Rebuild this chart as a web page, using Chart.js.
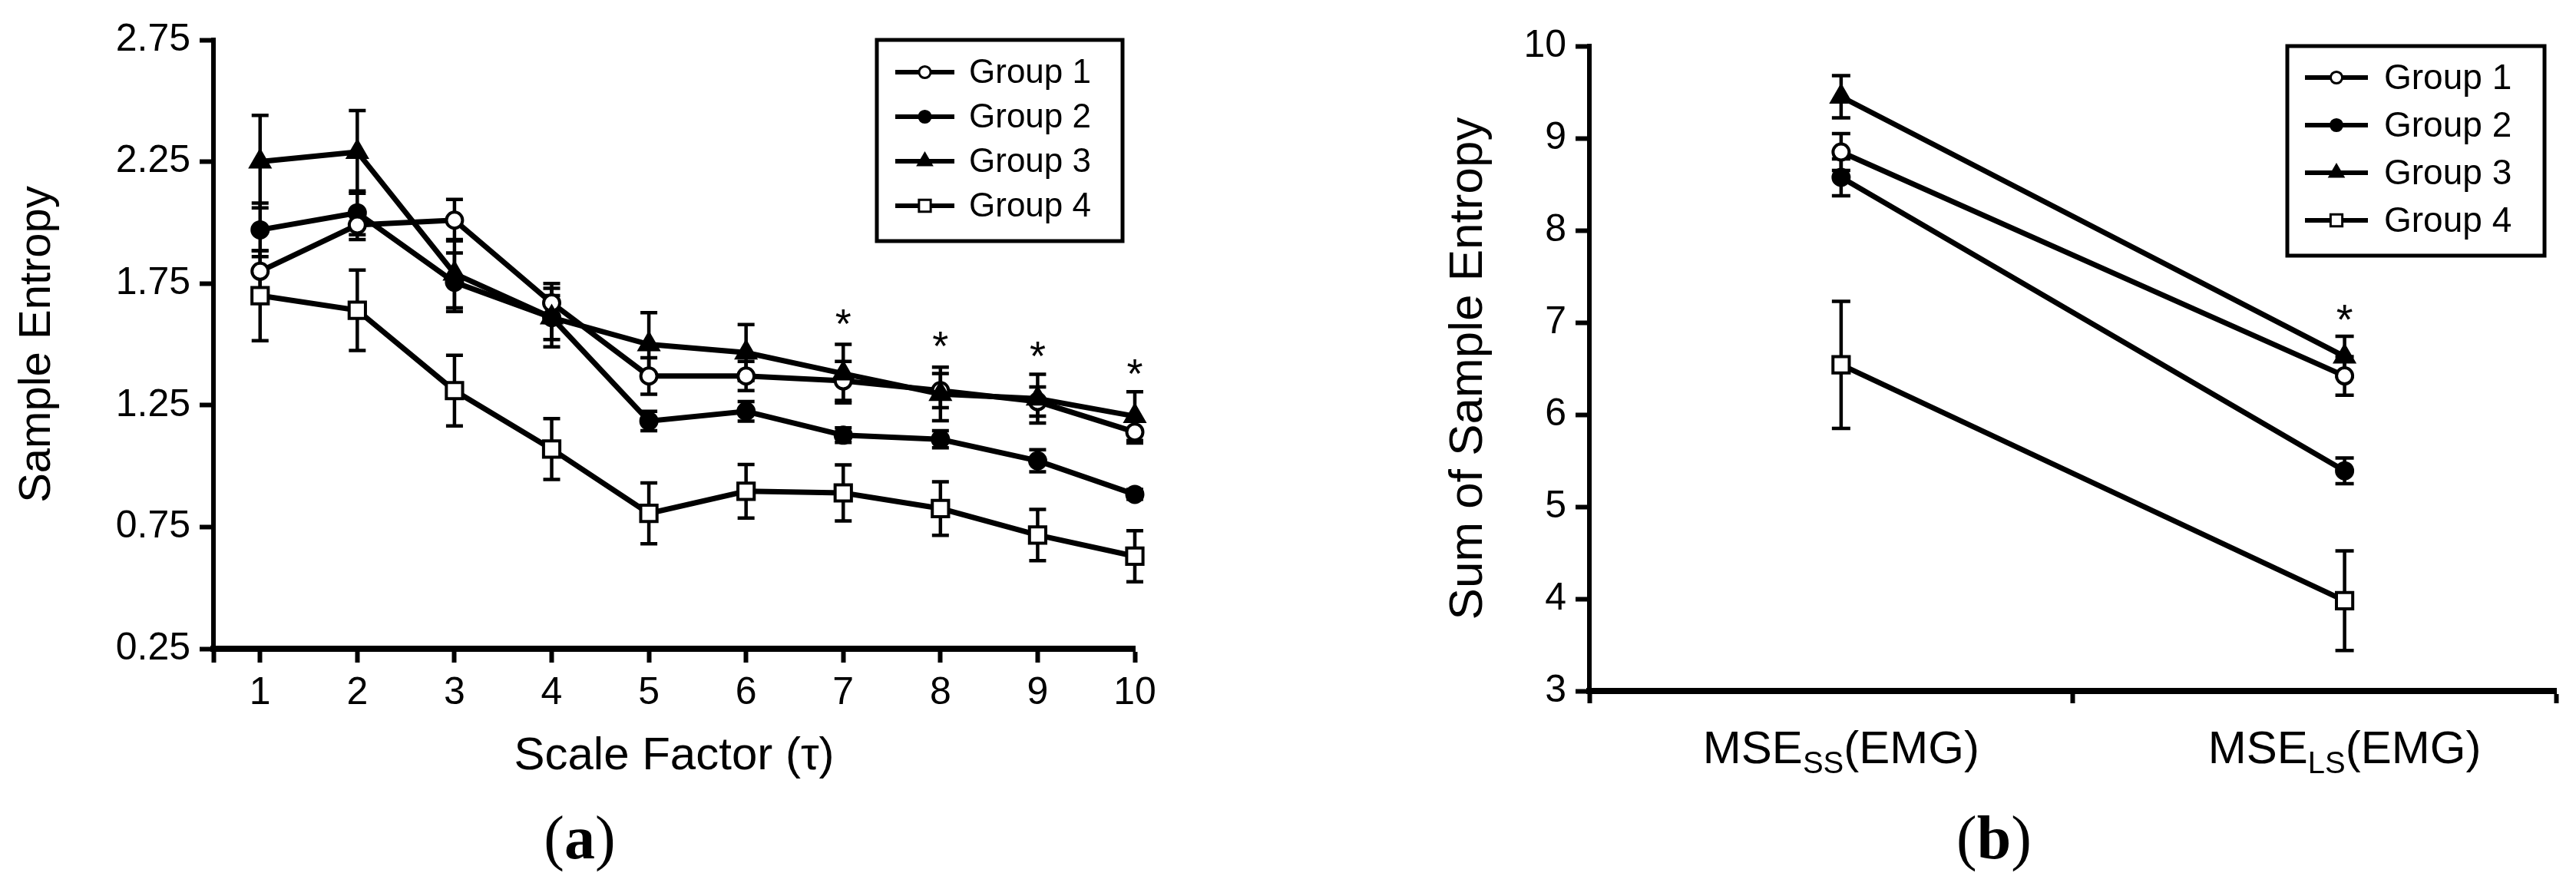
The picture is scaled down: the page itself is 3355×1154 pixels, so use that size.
<!DOCTYPE html>
<html>
<head>
<meta charset="utf-8">
<script src="https://cdn.jsdelivr.net/npm/chart.js@4.4.1/dist/chart.umd.min.js"></script>
<style>
  html, body { margin: 0; padding: 0; background: #fff; }
  body { width: 3355px; height: 1154px; position: relative; overflow: hidden; }
  .panel { position: absolute; top: 0; height: 1154px; }
  #boxA { left: 0; width: 1600px; }
  #boxB { left: 1700px; width: 1655px; }
  .tag { position: absolute; top: 1051px; width: 200px; text-align: center;
         font: 80px/80px "Liberation Serif", "Times New Roman", serif; color: #000; }
</style>
</head>
<body>
<div class="panel" id="boxA"><canvas id="chartA"></canvas></div>
<div class="panel" id="boxB"><canvas id="chartB"></canvas></div>
<div class="tag" style="left:655px">(<b>a</b>)</div>
<div class="tag" style="left:2497px">(<b>b</b>)</div>

<script>
// ---------- panel (a): sample entropy per scale factor ----------
const scaleFactors = [1, 2, 3, 4, 5, 6, 7, 8, 9, 10];
const yTicksA = [0.25, 0.75, 1.25, 1.75, 2.25, 2.75];

const group1 = [1.80, 1.99, 2.01, 1.67, 1.37, 1.37, 1.35, 1.31, 1.265, 1.14];
const group2 = [1.97, 2.04, 1.755, 1.61, 1.185, 1.225, 1.127, 1.11, 1.022, 0.884];
const group3 = [2.25, 2.29, 1.79, 1.61, 1.50, 1.466, 1.38, 1.296, 1.277, 1.205];
const group4 = [1.70, 1.64, 1.31, 1.07, 0.806, 0.897, 0.89, 0.826, 0.717, 0.63];

const group1Err = [0.085, 0.06, 0.085, 0.08, 0.075, 0.06, 0.08, 0.07, 0.06, 0.045];
const group2Err = [0.11, 0.09, 0.12, 0.09, 0.04, 0.04, 0.03, 0.035, 0.045, 0.02];
const group3Err = [0.19, 0.17, 0.14, 0.12, 0.13, 0.115, 0.12, 0.11, 0.10, 0.10];
const group4Err = [0.185, 0.165, 0.145, 0.125, 0.125, 0.11, 0.115, 0.11, 0.105, 0.105];

// significance marks (*) above scale factors 7..10
const starScales = [7, 8, 9, 10];
const starLevels = [1.625, 1.532, 1.493, 1.42];

// ---------- panel (b): sum of sample entropy ----------
const msePos = [1, 2];
const mseMain = ['MSE', 'MSE'];
const mseSub = ['SS', 'LS'];
const mseTail = ['(EMG)', '(EMG)'];
const yTicksB = [3, 4, 5, 6, 7, 8, 9, 10];

const sum1 = [8.85, 6.42];
const sum2 = [8.575, 5.39];
const sum3 = [9.45, 6.63];
const sum4 = [6.54, 3.98];

const sum1Err = [0.20, 0.21];
const sum2Err = [0.20, 0.14];
const sum3Err = [0.23, 0.22];
const sum4Err = [0.69, 0.54];

const starPosB = [2];
const starLevelsB = [7.14];

const groupNames = ['Group 1', 'Group 2', 'Group 3', 'Group 4'];

const SANS = "'Liberation Sans', Arial, sans-serif";
Chart.defaults.font.family = SANS;
Chart.defaults.color = '#000';

// marker look of each group (order: lower is drawn on top)
const looks = [
    { pointStyle: 'circle',   fill: '#fff', radius: 10.5, order: 1 },
    { pointStyle: 'circle',   fill: '#000', radius: 10.5, order: 2 },
    { pointStyle: 'triangle', fill: '#000', radius: 14,   order: 0 },
    { pointStyle: 'rect',     fill: '#fff', radius: 15,   order: 3 }
];

function makeSets(xs, series, errs, lineW) {
    return series.map((ys, g) => ({
        label: groupNames[g],
        data: xs.map((x, i) => ({ x: x, y: ys[i] })),
        errors: errs[g],
        borderColor: '#000',
        borderWidth: lineW,
        pointStyle: looks[g].pointStyle,
        pointRadius: looks[g].radius,
        pointBackgroundColor: looks[g].fill,
        pointBorderColor: '#000',
        pointBorderWidth: 4,
        order: looks[g].order,
        tension: 0,
        fill: false,
        clip: false
    }));
}

// error bars with caps, drawn under the lines and markers
const errorBars = {
    id: 'errorBars',
    beforeDatasetsDraw(chart, args, o) {
        const { ctx, scales: { x, y } } = chart;
        ctx.save();
        ctx.strokeStyle = '#000';
        ctx.lineWidth = o.width;
        chart.data.datasets.forEach(ds => {
            ds.data.forEach((p, i) => {
                const e = ds.errors[i];
                const px = x.getPixelForValue(p.x);
                const top = y.getPixelForValue(p.y + e);
                const bot = y.getPixelForValue(p.y - e);
                ctx.beginPath();
                ctx.moveTo(px, top); ctx.lineTo(px, bot);
                ctx.moveTo(px - o.cap, top); ctx.lineTo(px + o.cap, top);
                ctx.moveTo(px - o.cap, bot); ctx.lineTo(px + o.cap, bot);
                ctx.stroke();
            });
        });
        ctx.restore();
    }
};

// asterisks
const stars = {
    id: 'stars',
    afterDatasetsDraw(chart, args, o) {
        const { ctx, scales: { x, y } } = chart;
        ctx.save();
        ctx.fillStyle = '#000';
        ctx.font = o.size + 'px ' + SANS;
        ctx.textAlign = 'center';
        ctx.textBaseline = 'alphabetic';
        o.xs.forEach((v, i) => {
            ctx.fillText('*', x.getPixelForValue(v), y.getPixelForValue(o.ys[i]) + o.size * 0.57);
        });
        ctx.restore();
    }
};

// framed legend like the original figure
const boxLegend = {
    id: 'boxLegend',
    afterDraw(chart, args, o) {
        const ctx = chart.ctx;
        ctx.save();
        ctx.strokeStyle = '#000';
        ctx.lineWidth = o.frame;
        ctx.strokeRect(o.x, o.y, o.w, o.h);
        ctx.font = o.size + 'px ' + SANS;
        ctx.textBaseline = 'middle';
        ctx.textAlign = 'left';
        chart.data.datasets.forEach((ds, i) => {
            const cy = o.y + o.first + i * o.step;
            ctx.strokeStyle = '#000';
            ctx.lineWidth = o.line;
            ctx.beginPath();
            ctx.moveTo(o.x + o.lineFrom, cy);
            ctx.lineTo(o.x + o.lineTo, cy);
            ctx.stroke();
            ctx.fillStyle = ds.pointBackgroundColor;
            ctx.lineWidth = 3;
            Chart.helpers.drawPoint(ctx, {
                pointStyle: ds.pointStyle, radius: ds.pointRadius * o.markScale,
                rotation: 0, borderWidth: 3
            }, o.x + (o.lineFrom + o.lineTo) / 2, cy);
            ctx.fillStyle = '#000';
            ctx.fillText(ds.label, o.x + o.textAt, cy + 2);
        });
        ctx.restore();
    }
};

// category labels with subscripts for panel (b)
const mseLabels = {
    id: 'mseLabels',
    afterDraw(chart, args, o) {
        const { ctx, scales: { x } } = chart;
        const big = o.size + 'px ' + SANS;
        const small = Math.round(o.size * 0.66) + 'px ' + SANS;
        ctx.save();
        ctx.fillStyle = '#000';
        ctx.textAlign = 'left';
        ctx.textBaseline = 'alphabetic';
        msePos.forEach((v, i) => {
            ctx.font = big;
            const w1 = ctx.measureText(mseMain[i]).width;
            const w3 = ctx.measureText(mseTail[i]).width;
            ctx.font = small;
            const w2 = ctx.measureText(mseSub[i]).width;
            const left = x.getPixelForValue(v) - (w1 + w2 + w3) / 2;
            const base = x.top + o.drop;
            ctx.font = big;
            ctx.fillText(mseMain[i], left, base);
            ctx.font = small;
            ctx.fillText(mseSub[i], left + w1, base + o.size * 0.22);
            ctx.font = big;
            ctx.fillText(mseTail[i], left + w1 + w2, base);
        });
        ctx.restore();
    }
};

function axisLook(size) {
    return {
        grid: { drawOnChartArea: false, drawTicks: true, tickLength: 18, tickWidth: 6,
                color: '#000', tickColor: '#000' },
        border: { display: true, color: '#000', width: 6 },
        ticks: { color: '#000', font: { size: size }, maxRotation: 0, autoSkip: false }
    };
}

/*----------------------------------------------------------------
        PANEL A
----------------------------------------------------------------*/
const ax = axisLook(50), ay = axisLook(50);
new Chart(document.getElementById('chartA'), {
    type: 'line',
    data: {
        datasets: makeSets(scaleFactors, [group1, group2, group3, group4],
                           [group1Err, group2Err, group3Err, group4Err], 7)
    },
    options: {
        responsive: true,
        maintainAspectRatio: false,
        animation: false,
        layout: { padding: { left: 0, right: 122, top: 52, bottom: 0 } },
        plugins: {
            legend: { display: false },
            tooltip: { enabled: false },
            errorBars: { width: 4.5, cap: 11 },
            stars: { xs: starScales, ys: starLevels, size: 54 },
            boxLegend: { x: 1142, y: 52, w: 320, h: 262, frame: 5, size: 44,
                         first: 42, step: 58, lineFrom: 24, lineTo: 101, textAt: 120,
                         line: 6, markScale: 0.72 }
        },
        scales: {
            x: {
                type: 'linear', min: 0.52, max: 10,
                afterBuildTicks: s => { s.ticks = [0.52].concat(scaleFactors).map(v => ({ value: v })); },
                afterFit: s => { s.height = 309; },
                grid: ax.grid,
                border: Object.assign({}, ax.border, { width: 8 }),
                ticks: Object.assign({}, ax.ticks, {
                    padding: 10,
                    callback: v => Number.isInteger(v) ? String(v) : ''
                }),
                title: { display: true, text: 'Scale Factor (\u03c4)', color: '#000',
                         font: { size: 60 }, padding: { top: 0, bottom: 133 } }
            },
            y: {
                type: 'linear', min: 0.25, max: 2.75,
                afterBuildTicks: s => { s.ticks = yTicksA.map(v => ({ value: v })); },
                afterFit: s => { s.width = 278; },
                grid: ay.grid,
                border: ay.border,
                ticks: Object.assign({}, ay.ticks, { padding: 12, callback: v => v.toFixed(2) }),
                title: { display: true, text: 'Sample Entropy', color: '#000',
                         font: { size: 58 }, padding: { top: 14, bottom: 0 } }
            }
        }
    },
    plugins: [errorBars, stars, boxLegend]
});

/*----------------------------------------------------------------
        PANEL B
----------------------------------------------------------------*/
const bx = axisLook(50), by = axisLook(50);
const bMin = 0.5, bMax = 2.42;
new Chart(document.getElementById('chartB'), {
    type: 'line',
    data: {
        datasets: makeSets(msePos, [sum1, sum2, sum3, sum4],
                           [sum1Err, sum2Err, sum3Err, sum4Err], 7)
    },
    options: {
        responsive: true,
        maintainAspectRatio: false,
        animation: false,
        layout: { padding: { left: 0, right: 26, top: 60, bottom: 0 } },
        plugins: {
            legend: { display: false },
            tooltip: { enabled: false },
            errorBars: { width: 4.5, cap: 12 },
            stars: { xs: starPosB, ys: starLevelsB, size: 56 },
            boxLegend: { x: 1279, y: 60, w: 335, h: 273, frame: 5, size: 46,
                         first: 41, step: 62, lineFrom: 23, lineTo: 105, textAt: 126,
                         line: 6, markScale: 0.72 },
            mseLabels: { size: 60, drop: 94 }
        },
        scales: {
            x: {
                type: 'linear', min: bMin, max: bMax,
                afterBuildTicks: s => {
                    s.ticks = [bMin, (bMin + bMax) / 2, bMax].map(v => ({ value: v }));
                },
                afterFit: s => { s.height = 254; },
                grid: Object.assign({}, bx.grid, { tickLength: 16 }),
                border: Object.assign({}, bx.border, { width: 8 }),
                ticks: Object.assign({}, bx.ticks, { callback: () => '' })
            },
            y: {
                type: 'linear', min: 3, max: 10,
                afterBuildTicks: s => { s.ticks = yTicksB.map(v => ({ value: v })); },
                afterFit: s => { s.width = 370; },
                grid: by.grid,
                border: by.border,
                ticks: Object.assign({}, by.ticks, { padding: 12, callback: v => String(v) }),
                title: { display: true, text: 'Sum of Sample Entropy', color: '#000',
                         font: { size: 62 }, padding: { top: 176, bottom: 0 } }
            }
        }
    },
    plugins: [errorBars, stars, boxLegend, mseLabels]
});
</script>
</body>
</html>
